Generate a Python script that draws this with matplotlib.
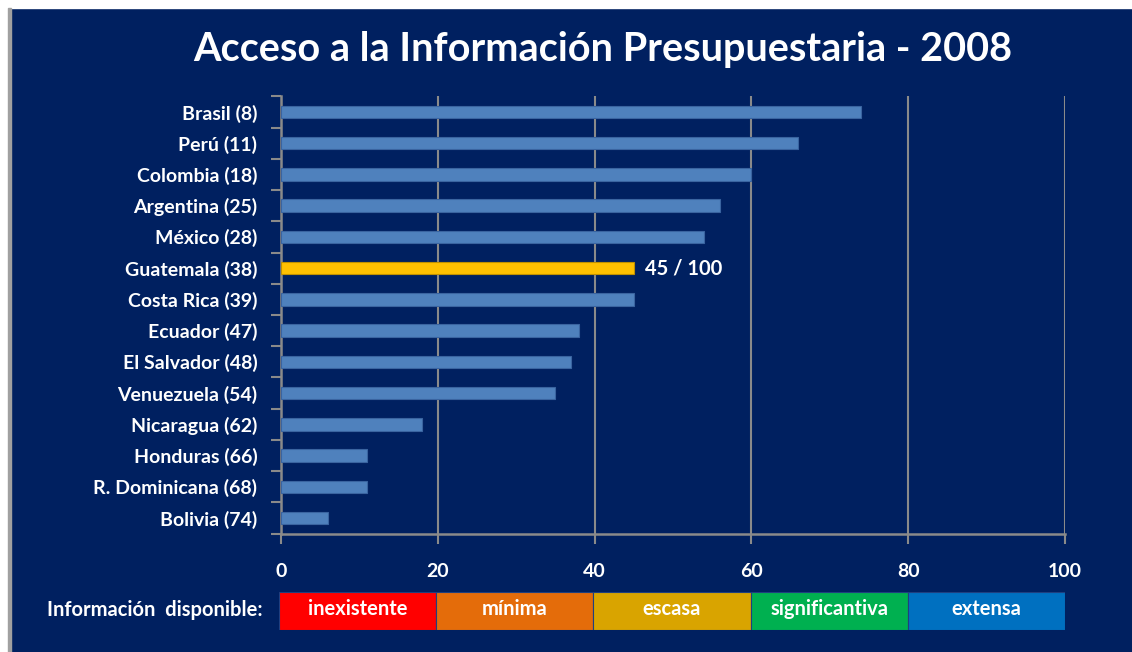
import matplotlib
matplotlib.use("Agg")
import matplotlib.pyplot as plt
from matplotlib.patches import Rectangle
import numpy as np

countries = ["Brasil (8)", "Perú (11)", "Colombia (18)", "Argentina (25)", "México (28)",
             "Guatemala (38)", "Costa Rica (39)", "Ecuador (47)", "El Salvador (48)",
             "Venuezuela (54)", "Nicaragua (62)", "Honduras (66)", "R. Dominicana (68)",
             "Bolivia (74)"]
scores = [74, 66, 60, 56, 54, 45, 45, 38, 37, 35, 18, 11, 11, 6]
highlight = "Guatemala (38)"
highlight_label = "45 / 100"
xticks = [0, 20, 40, 60, 80, 100]
legend_title = "Información  disponible:"
legend_cats = ["inexistente", "mínima", "escasa", "significantiva", "extensa"]
legend_colors = ["#FF0000", "#E46C0A", "#D9A400", "#00B050", "#0070C0"]

NAVY = "#002060"
BAR = "#4F81BD"
GOLD = "#FFC000"
GRID = "#8A8A8A"
FONT = "Lato"

W, H = 1132, 652
fig = plt.figure(figsize=(W / 100, H / 100), dpi=100, facecolor=NAVY)

def fx(px):
    return px / W

def fy(py):
    return 1 - py / H

# screenshot border artifacts
fig.patches.append(Rectangle((0, fy(8)), 1, 8 / H, transform=fig.transFigure, color="white", zorder=0))
fig.patches.append(Rectangle((0, 0), fx(8), 1, transform=fig.transFigure, color="white", zorder=0))
fig.patches.append(Rectangle((fx(8), 0), fx(3), fy(8), transform=fig.transFigure, color="#A0A0A0", zorder=0))

# main axes
left, right, top, bottom = 281, 1065, 96.4, 533.6
ax = fig.add_axes([fx(left), fy(bottom), fx(right - left), (bottom - top) / H])
ax.set_facecolor(NAVY)
n = len(countries)
ypos = np.arange(n)
colors = [GOLD if c == highlight else BAR for c in countries]
edges = ["#C09000" if c == highlight else "#3A64A0" for c in countries]
ax.barh(ypos, scores, height=0.4, color=colors, edgecolor=edges, linewidth=0.8, zorder=3)
ax.set_ylim(n - 0.5, -0.5)
ax.set_xlim(0, 100)
ax.set_xticks(xticks)
ax.set_xticklabels([str(t) for t in xticks], fontsize=14, fontweight="bold", color="white", family=FONT)
ax.set_yticks(ypos)
ax.set_yticklabels(countries, fontsize=14, fontweight="bold", color="white", family=FONT)
ax.set_yticks(np.arange(-0.5, n, 1), minor=True)
ax.tick_params(axis="y", which="major", length=0, pad=17)
ax.tick_params(axis="y", which="minor", length=7, color=GRID, width=1.5)
ax.tick_params(axis="x", which="major", length=7, color=GRID, width=1.5, pad=14)
ax.grid(axis="x", color=GRID, linewidth=1.5, zorder=1)
for s in ["top", "right"]:
    ax.spines[s].set_visible(False)
for s in ["left", "bottom"]:
    ax.spines[s].set_color(GRID)
    ax.spines[s].set_linewidth(1.8)

hi = countries.index(highlight)
ax.annotate(highlight_label, xy=(scores[hi], hi), xytext=(8, 0), textcoords="offset points",
            va="center", ha="left", color="white", fontsize=14.5, fontweight="bold", family=FONT)

# title
fig.text(fx(603), fy(50), "Acceso a la Información Presupuestaria - 2008", ha="center", va="center",
         color="white", fontsize=28.5, fontweight="bold", family=FONT)

# legend bar
lax = fig.add_axes([fx(279), fy(630), fx(1065 - 279), 38 / H])
lax.set_xlim(0, 100)
lax.set_ylim(0, 1)
lax.axis("off")
seg = 100 / len(legend_cats)
for i, (lab, col) in enumerate(zip(legend_cats, legend_colors)):
    lax.barh(0.5, seg, left=i * seg, height=1, color=col, edgecolor="#1F3F7F", linewidth=0.8)
    lax.text(i * seg + seg / 2, 0.55, lab, ha="center", va="center", color="white",
             fontsize=14.5, fontweight="bold", family=FONT)
fig.text(fx(263), fy(610), legend_title, ha="right", va="center", color="white",
         fontsize=14.5, fontweight="bold", family=FONT)

fig.savefig("out.png", dpi=100, facecolor=NAVY)
